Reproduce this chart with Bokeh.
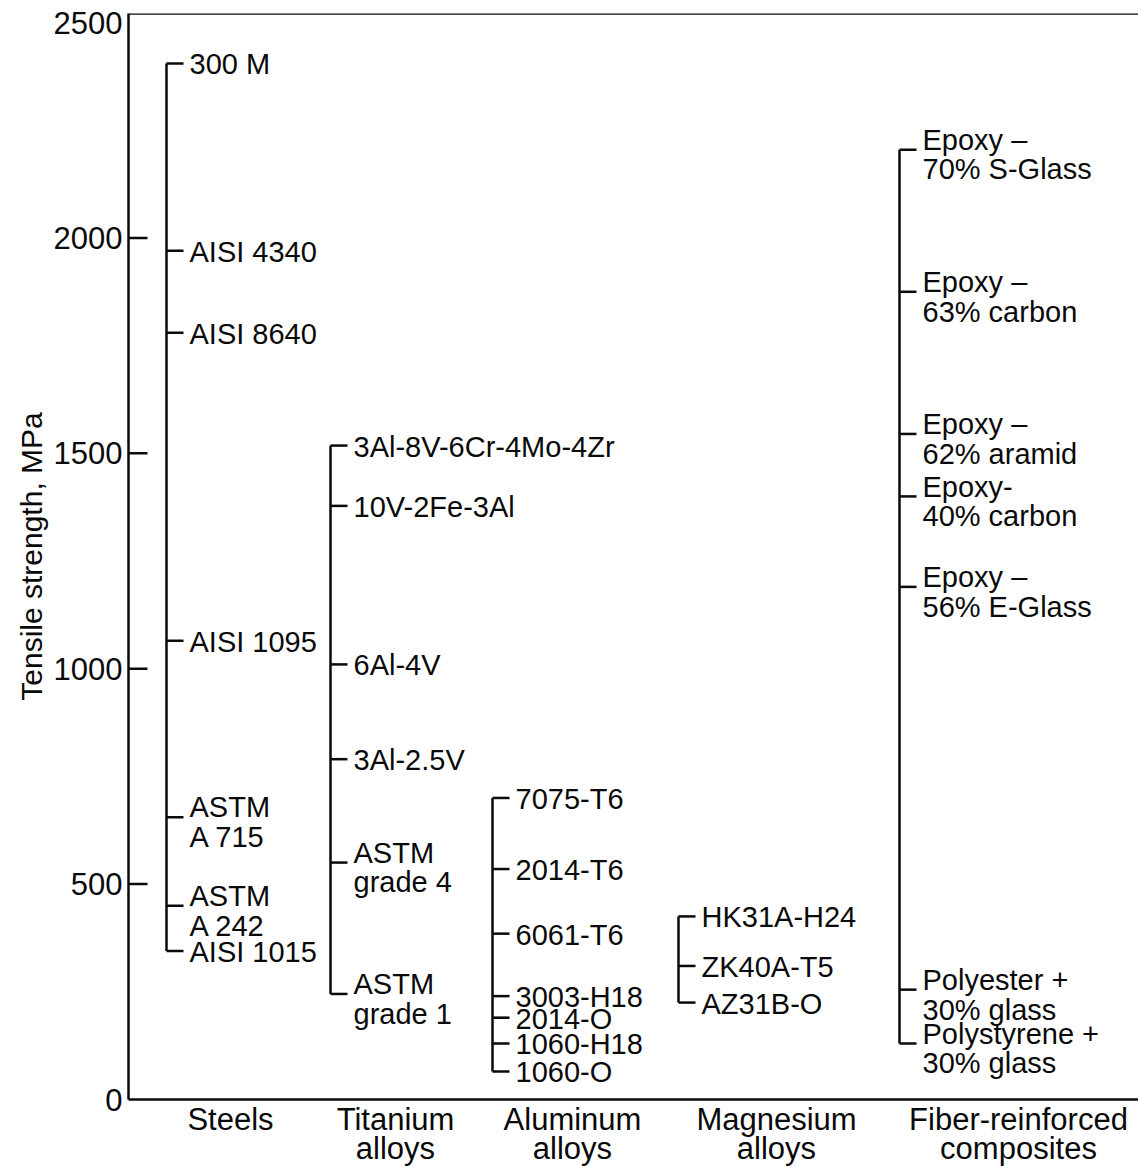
from bokeh.plotting import figure
from bokeh.models import Range1d, FixedTicker, ColumnDataSource, Span
from bokeh.embed import file_html
from bokeh.resources import INLINE
from bokeh.core.properties import value

# ---------------- data ----------------
categories = ["Steels", "Titanium\nalloys", "Aluminum\nalloys",
              "Magnesium\nalloys", "Fiber-reinforced\ncomposites"]

steel_names = ["300 M", "AISI 4340", "AISI 8640", "AISI 1095",
               "ASTM\nA 715", "ASTM\nA 242", "AISI 1015"]
steel_mpa = [2405, 1970, 1780, 1065, 655, 450, 345]

titanium_names = ["3Al-8V-6Cr-4Mo-4Zr", "10V-2Fe-3Al", "6Al-4V",
                  "3Al-2.5V", "ASTM\ngrade 4", "ASTM\ngrade 1"]
titanium_mpa = [1518, 1378, 1010, 790, 550, 245]

aluminum_names = ["7075-T6", "2014-T6", "6061-T6", "3003-H18",
                  "2014-O", "1060-H18", "1060-O"]
aluminum_mpa = [700, 535, 385, 240, 190, 130, 65]

magnesium_names = ["HK31A-H24", "ZK40A-T5", "AZ31B-O"]
magnesium_mpa = [425, 310, 225]

composite_names = ["Epoxy \u2013\n70% S-Glass", "Epoxy \u2013\n63% carbon",
                   "Epoxy \u2013\n62% aramid", "Epoxy-\n40% carbon",
                   "Epoxy \u2013\n56% E-Glass", "Polyester +\n30% glass",
                   "Polystyrene +\n30% glass"]
composite_mpa = [2205, 1875, 1545, 1400, 1190, 255, 130]

y_ticks = [0, 500, 1000, 1500, 2000, 2500]
y_title = "Tensile strength, MPa"

groups = [
    (steel_names, steel_mpa),
    (titanium_names, titanium_mpa),
    (aluminum_names, aluminum_mpa),
    (magnesium_names, magnesium_mpa),
    (composite_names, composite_mpa),
]

# ---------------- layout (x in pixel-like units from the frame's left) ----------------
bracket_x = [38, 202, 364, 550, 771]
cat_label_x = [102, 267, 444, 648, 890]
tick_len = 17
text_gap = 23
y_top = 2521

FONT = "Liberation Sans"
INK = "#0a0a0a"
LW = 2.5

p = figure(width=1138, height=1169,
           x_range=Range1d(0, 1010), y_range=Range1d(0, y_top),
           output_backend="svg", toolbar_location=None,
           min_border_left=128, min_border_right=0,
           min_border_top=13, min_border_bottom=68)
p.outline_line_color = None
p.xgrid.visible = False
p.ygrid.visible = False
p.background_fill_color = "white"
p.border_fill_color = "white"

# x axis: line + group names
p.xaxis.ticker = FixedTicker(ticks=cat_label_x)
p.xaxis.major_label_overrides = {x: c for x, c in zip(cat_label_x, categories)}
p.xaxis.major_tick_line_color = None
p.xaxis.major_tick_in = 0
p.xaxis.major_tick_out = 0
p.xaxis.minor_tick_line_color = None
p.xaxis.minor_tick_out = 0
p.xaxis.major_label_standoff = 2
p.xaxis.major_label_text_font = FONT
p.xaxis.major_label_text_font_size = "31px"
p.xaxis.major_label_text_line_height = 0.85
p.xaxis.major_label_text_color = INK
p.xaxis.axis_line_width = LW
p.xaxis.axis_line_color = INK

# y axis
p.yaxis.ticker = FixedTicker(ticks=y_ticks)
p.yaxis.major_tick_in = 0
p.yaxis.major_tick_out = 0
p.yaxis.minor_tick_line_color = None
p.yaxis.minor_tick_out = 0
p.yaxis.axis_line_width = LW
p.yaxis.axis_line_color = INK
p.yaxis.major_label_standoff = 6
p.yaxis.major_label_text_font = FONT
p.yaxis.major_label_text_font_size = "31px"
p.yaxis.major_label_text_color = INK
p.yaxis.axis_label = y_title
p.yaxis.axis_label_text_font = FONT
p.yaxis.axis_label_text_font_size = "30px"
p.yaxis.axis_label_text_font_style = "normal"
p.yaxis.axis_label_text_color = INK
p.yaxis.axis_label_standoff = 3

# top frame line
p.add_layout(Span(location=y_top, dimension="width", line_color=INK, line_width=LW))

# inward y ticks (not at the frame ends)
inner = [t for t in y_ticks if 0 < t < 2500]
p.segment(x0=[0] * len(inner), x1=[19] * len(inner), y0=inner, y1=inner,
          line_color=INK, line_width=LW)

# brackets and labels
vx0, vx1, vy0, vy1 = [], [], [], []
hx0, hx1, hy = [], [], []
tx, ty, tt, toff = [], [], [], []
for (names, vals), bx in zip(groups, bracket_x):
    vx0.append(bx); vx1.append(bx)
    vy0.append(min(vals)); vy1.append(max(vals))
    for n, v in zip(names, vals):
        hx0.append(bx); hx1.append(bx + tick_len); hy.append(v)
        tx.append(bx + text_gap); ty.append(v); tt.append(n)
        toff.append(5 if "\n" in n else 1)

p.segment(x0=vx0, x1=vx1, y0=vy0, y1=vy1, line_color=INK, line_width=LW)
p.segment(x0=hx0, x1=hx1, y0=hy, y1=hy, line_color=INK, line_width=LW)

src = ColumnDataSource(dict(x=tx, y=ty, text=tt, yoff=toff))
p.text(x="x", y="y", text="text", source=src, y_offset="yoff", text_align="left",
       text_baseline="middle", text_font=value(FONT), text_font_size="29px",
       text_line_height=0.93, text_color=INK)

open("out.html", "w").write(file_html(p, INLINE))
